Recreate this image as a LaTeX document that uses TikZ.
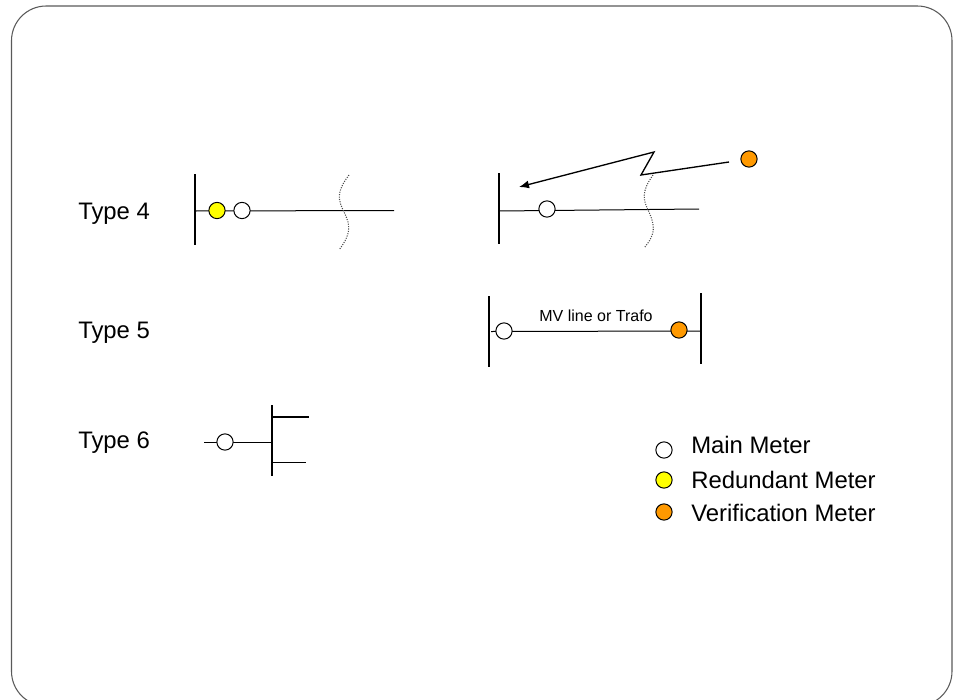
\documentclass[tikz,border=0pt]{standalone}
\usepackage{fontspec}
\setmainfont{Liberation Sans}
\usetikzlibrary{arrows.meta}
\definecolor{meteryellow}{RGB}{255,255,0}
\definecolor{meterorange}{RGB}{255,153,0}

\begin{document}
\begin{tikzpicture} [x=0.75pt, y=-0.75pt]

\tikzset{meter/.style = {shape=circle,draw,line width=0.75pt,minimum size=12.2pt,inner sep=0pt,fill=white}}
\tikzset{redundant/.style = {meter,fill=meteryellow}}
\tikzset{verification/.style = {meter,fill=meterorange}}
\tikzset{label/.style = {font=\fontsize{17.9}{20}\selectfont,anchor=base west,inner sep=0pt}}
\tikzset{bus/.style = {line width=0.8pt}}
\tikzset{thickbus/.style = {line width=1.5pt}}
\tikzset{feeder/.style = {line width=0.75pt}}
\tikzset{cut/.style = {densely dotted,draw=black!70,line width=0.8pt}}
\tikzset{edge/.style = {-{Latex[length=7.5pt,width=6pt]},line width=1pt}}

\clip (0,0) rectangle (954,700);
\draw[draw=black!65, line width=0.8pt, rounded corners=26pt] (11.5,6) rectangle (952,706);

% labels
\node[label] (t4) at (78,219) {Type 4};
\node[label] (t5) at (78,338) {Type 5};
\node[label] (t6) at (78,448) {Type 6};
% bus ends
\coordinate (a1) at (195,174);
\coordinate (a2) at (195,245);
\coordinate (a3) at (195,211);
\coordinate (a4) at (394,210.5);
\coordinate (b1) at (499,173);
\coordinate (b2) at (499,244);
\coordinate (b3) at (499,211);
\coordinate (b4) at (699,209);
\coordinate (c1) at (489,296);
\coordinate (c2) at (489,367);
\coordinate (c3) at (491,331.5);
\coordinate (d1) at (701,293);
\coordinate (d2) at (701,364);
\coordinate (d3) at (701,331);
\coordinate (e1) at (272,405);
\coordinate (e2) at (272,476);
\coordinate (e3) at (204,442);
\coordinate (e4) at (272,442);
\coordinate (e5) at (272,417);
\coordinate (e6) at (309,417);
\coordinate (e7) at (272,462);
\coordinate (e8) at (306,462);
% lines
\draw[feeder] (a3) -- (a4);
\draw[feeder] (b3) -- (b4);
\draw[feeder] (c3) -- (d3);
\draw[feeder] (e3) -- (e4);
\draw[feeder] (e7) -- (e8);
\draw[thickbus] (e5) -- (e6);
\draw[thickbus] (a1) -- (a2);
\draw[bus] (b1) -- (b2);
\draw[bus] (c1) -- (c2);
\draw[thickbus] (d1) -- (d2);
\draw[bus] (e1) -- (e2);
% cuts
\coordinate (f1) at (349,175);
\coordinate (f2) at (339,250);
\coordinate (g1) at (653,175);
\coordinate (g2) at (644,248);
\draw[cut] (f1) .. controls (336,192) and (338,200) .. (344,212)
   .. controls (351,226) and (351,234) .. (f2);
\draw[cut] (g1) .. controls (641,192) and (643,200) .. (649,212)
   .. controls (655,226) and (656,234) .. (g2);
% meters
\node[redundant] (m1) at (217,210.5) {};
\node[meter] (m2) at (242,210.5) {};
\node[meter] (m3) at (547,209) {};
\node[verification] (m4) at (749,159) {};
\node[meter] (m5) at (504,331) {};
\node[verification] (m6) at (679,330) {};
\node[meter] (m7) at (225,442) {};
% arrow
\coordinate (h1) at (729,162);
\coordinate (h2) at (641,175);
\coordinate (h3) at (654,152);
\coordinate (h4) at (519,187);
\draw[edge] (h1) -- (h2) -- (h3) -- (h4);
% text on line
\node[inner sep=0pt,font=\fontsize{12}{14}\selectfont] (mv) at (596,316) {MV line or Trafo};
% legend
\node[meter] (l1) at (664,450) {};
\node[redundant] (l2) at (664,480) {};
\node[verification] (l3) at (664,512) {};
\node[label] (n1) at (691,453.5) {Main Meter};
\node[label] (n2) at (691,488) {Redundant Meter};
\node[label] (n3) at (691,521) {Verification Meter};

\end{tikzpicture}
\end{document}
